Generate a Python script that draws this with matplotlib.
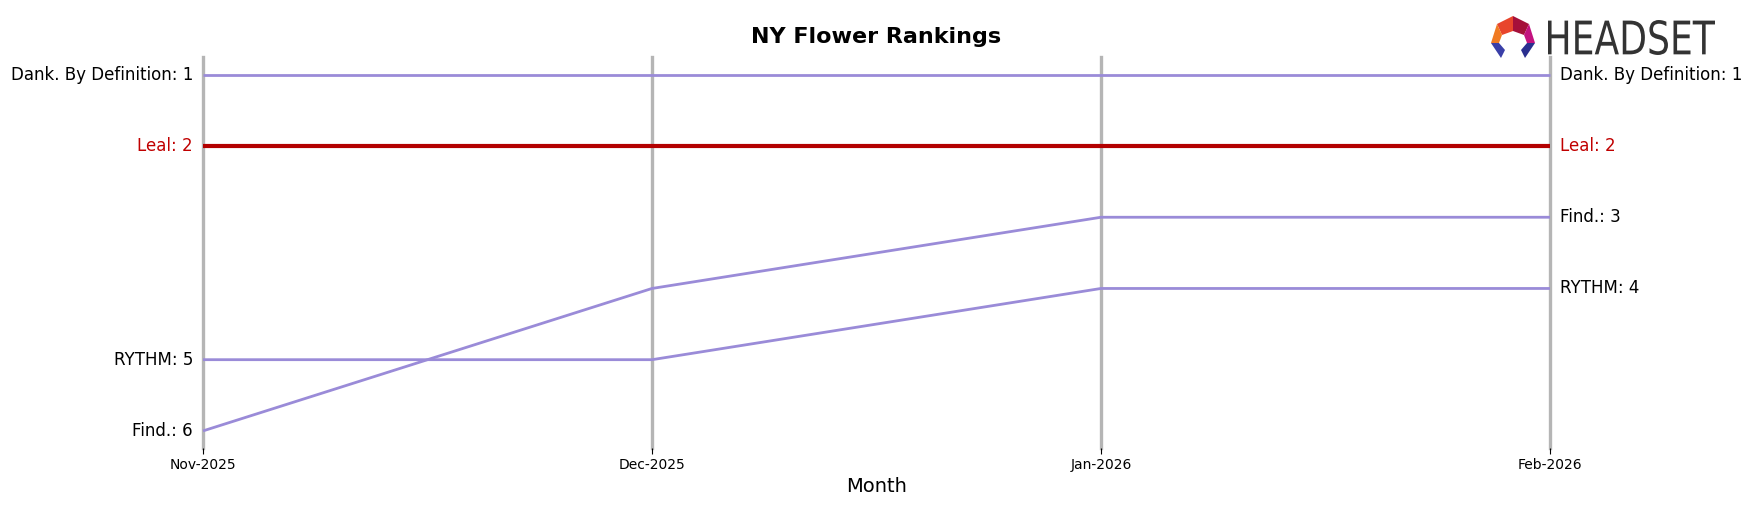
import matplotlib
matplotlib.use("Agg")
import matplotlib.pyplot as plt
from matplotlib.textpath import TextPath
from matplotlib.patches import PathPatch, Polygon
from matplotlib.font_manager import FontProperties
from matplotlib.transforms import Affine2D

months = ["Nov-2025", "Dec-2025", "Jan-2026", "Feb-2026"]
brands = ["Dank. By Definition", "Leal", "Find.", "RYTHM"]
dank_ranks = [1, 1, 1, 1]
leal_ranks = [2, 2, 2, 2]
find_ranks = [6, 4, 3, 3]
rythm_ranks = [5, 5, 4, 4]
series = [dank_ranks, leal_ranks, find_ranks, rythm_ranks]
highlight = "Leal"

W, H = 1753, 507
fig = plt.figure(figsize=(W / 100, H / 100), dpi=100)
ax = fig.add_axes([203 / W, 1 - 448 / H, (1550 - 203) / W, (448 - 57) / H])

x = list(range(len(months)))
for xi in x:
    ax.axvline(xi, color="#b5b5b5", lw=2.4, zorder=1, clip_on=False)

purple = "#9a8bd8"
red = "#b30000"
for name, vals in zip(brands, series):
    hl = name == highlight
    col = red if hl else purple
    ax.plot(x, vals, color=col, lw=3.0 if hl else 2.0, zorder=3 if hl else 2,
            solid_capstyle="butt", clip_on=False)
    tc = "#c00000" if hl else "black"
    ax.text(x[0] - 0.022, vals[0], f"{name}: {vals[0]}", ha="right", va="center",
            fontsize=12, color=tc)
    ax.text(x[-1] + 0.022, vals[-1], f"{name}: {vals[-1]}", ha="left", va="center",
            fontsize=12, color=tc)

ax.set_xlim(x[0], x[-1])
ax.set_ylim(6.24, 0.75)
ax.set_yticks([])
ax.set_xticks(x)
ax.set_xticklabels(months, fontsize=10)
ax.tick_params(axis="x", length=4, width=0.8, pad=3)
for s in ax.spines.values():
    s.set_visible(False)
ax.set_xlabel("Month", fontsize=14, labelpad=4)
ax.set_title("NY Flower Rankings", fontsize=16, fontweight="bold", pad=10)

# Logo (approximation) in figure pixel coordinates
def px(xp, yp):
    return (xp, H - yp)

pix = Affine2D().scale(1.0 / W, 1.0 / H) + fig.transFigure

icon = [
    ([(1497, 24), (1513, 16), (1513, 31), (1502, 35)], "#e8452c"),
    ([(1513, 16), (1529, 24), (1524, 35), (1513, 31)], "#a5103a"),
    ([(1529, 24), (1535, 43), (1527, 43), (1524, 35)], "#c3127f"),
    ([(1497, 24), (1491, 43), (1499, 43), (1502, 35)], "#f07a22"),
    ([(1491, 43), (1499, 43), (1505, 50), (1501, 58)], "#3a3fa8"),
    ([(1535, 43), (1527, 43), (1521, 50), (1525, 58)], "#2a2f8f"),
]
for pts, c in icon:
    fig.patches.append(Polygon([px(a, b) for a, b in pts], closed=True, fc=c,
                               ec="none", transform=pix))

fp = FontProperties(family="DejaVu Sans")
tp = TextPath((0, 0), "HEADSET", size=100, prop=fp)
bb = tp.get_extents()
sx = (1715 - 1548) / bb.width
sy = 35 / bb.height
t = Affine2D().translate(-bb.x0, -bb.y0).scale(sx, sy).translate(1548, H - 55)
fig.patches.append(PathPatch(t.transform_path(tp), fc="#333333", ec="none",
                             transform=pix))

fig.savefig("out.png", dpi=100)
